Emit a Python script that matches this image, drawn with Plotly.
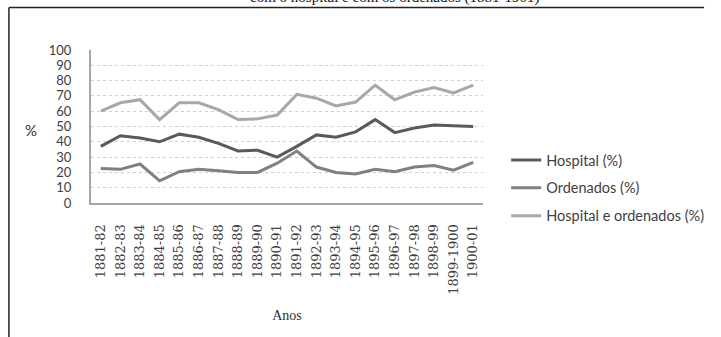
import plotly.graph_objects as go

# Academic years (x categories)
anos = ["1881-82", "1882-83", "1883-84", "1884-85", "1885-86", "1886-87",
        "1887-88", "1888-89", "1889-90", "1890-91", "1891-92", "1892-93",
        "1893-94", "1894-95", "1895-96", "1896-97", "1897-98", "1898-99",
        "1899-1900", "1900-01"]

# Share of expenses (%)
hospital = [37, 44, 42.5, 40, 45, 43, 39, 34, 34.5, 30, 37, 44.5,
            43, 46.5, 54.5, 46, 49, 51, 50.5, 50]
ordenados = [22.5, 22, 25.5, 14.5, 20.5, 22, 21, 20, 20, 26, 34, 23.5,
             20, 19, 22, 20.5, 23.5, 24.5, 21.5, 26.5]
hosp_ord = [60, 65.5, 67.5, 54.5, 65.5, 65.5, 61, 54.5, 55, 57.5, 71, 68.5,
            63.5, 66, 77, 67.5, 72.5, 75.5, 72, 77]

y_ticks = list(range(0, 101, 10))

# Plot area in pixels
W, H = 721, 337
L, R, T, B = 91, 497, 50, 203


def px_x(px):
    return (px - L) / (R - L)


def px_y(py):
    return (B - py) / (B - T)


series = [
    ("Hospital (%)", hospital, "#5a5a5a"),
    ("Ordenados (%)", ordenados, "#808080"),
    ("Hospital e ordenados (%)", hosp_ord, "#a8a8a8"),
]

fig = go.Figure()
for i, (name, vals, col) in enumerate(series):
    fig.add_trace(go.Scatter(
        x=anos, y=vals, name=name, mode="lines",
        line=dict(color=col, width=3),
        legendgroup=f"g{i}",
    ))

fig.update_layout(
    width=W, height=H,
    margin=dict(l=L, r=W - R, t=T, b=H - B),
    paper_bgcolor="white",
    plot_bgcolor="white",
    font=dict(family="Lato, Open Sans, sans-serif", color="#404040", size=12),
    showlegend=True,
    legend=dict(
        x=px_x(521), y=px_y(144), xanchor="left", yanchor="top",
        font=dict(family="Lato, sans-serif", size=14.5, color="#404040"),
        tracegroupgap=6,
        traceorder="grouped",
        itemwidth=30,
        bgcolor="rgba(0,0,0,0)",
    ),
    xaxis=dict(
        type="category",
        range=[-0.5, len(anos) - 0.5],
        tickangle=-90,
        showgrid=False,
        showline=True, linecolor="#a6a6a6", linewidth=2,
        ticks="", ticklen=0, ticklabelstandoff=14,
        tickfont=dict(family="DejaVu Serif, serif", size=13, color="#404040"),
        title=dict(text="Anos", font=dict(family="Liberation Serif, serif", size=14, color="#303030"),
                   standoff=16),
        zeroline=False,
    ),
    yaxis=dict(
        range=[0, 100],
        tickvals=y_ticks,
        showgrid=True, gridcolor="#cfcfcf", griddash="dot", gridwidth=1,
        showline=True, linecolor="#a6a6a6", linewidth=2,
        ticks="", ticklabelstandoff=15,
        tickfont=dict(family="Lato, sans-serif", size=13, color="#404040"),
        zeroline=False,
    ),
)

# "%" axis label
fig.add_annotation(
    text="%", x=px_x(29), y=px_y(130), xref="paper", yref="paper",
    xanchor="center", yanchor="middle",
    showarrow=False, font=dict(size=15, color="#303030",
                               family="Lato, sans-serif"),
)

# Caption text at the top, partially off the page
fig.add_annotation(
    text="com o hospital e com os ordenados (1881-1901)",
    x=px_x(406), y=px_y(8), xref="paper", yref="paper",
    xanchor="center", yanchor="bottom", showarrow=False,
    font=dict(family="Liberation Serif, serif", size=15, color="#111111"),
)

# Frame lines (top and left)
fig.add_shape(type="line", xref="paper", yref="paper",
              x0=px_x(6), x1=px_x(W + 5), y0=px_y(7.5), y1=px_y(7.5),
              line=dict(color="#222222", width=1.5))
fig.add_shape(type="line", xref="paper", yref="paper",
              x0=px_x(6), x1=px_x(6), y0=px_y(7.5), y1=px_y(H + 5),
              line=dict(color="#222222", width=1.5))

fig.write_html("out.html")
